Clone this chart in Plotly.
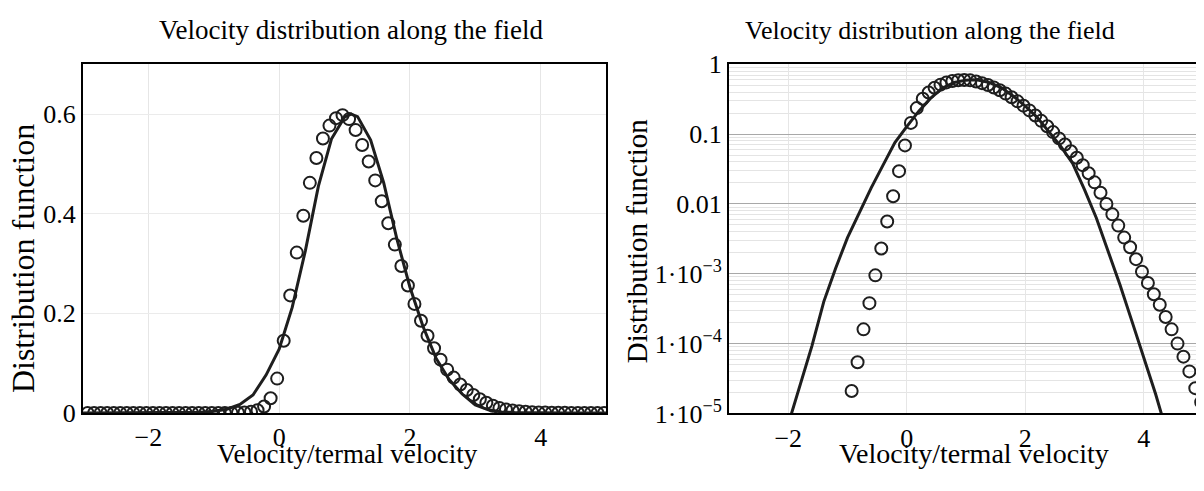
import plotly.graph_objects as go
from plotly.subplots import make_subplots

# measured points (circles)
circ_x = [-2.93, -2.83, -2.73, -2.63, -2.53, -2.43, -2.33, -2.23, -2.13, -2.03,
          -1.93, -1.83, -1.73, -1.63, -1.53, -1.43, -1.33, -1.23, -1.13, -1.03,
          -0.93, -0.83, -0.73, -0.63, -0.53, -0.43, -0.33, -0.23, -0.13, -0.03,
          0.07, 0.17, 0.27, 0.37, 0.47, 0.57, 0.67, 0.77, 0.87, 0.97,
          1.07, 1.17, 1.27, 1.37, 1.47, 1.57, 1.67, 1.77, 1.87, 1.97,
          2.07, 2.17, 2.27, 2.37, 2.47, 2.57, 2.67, 2.77, 2.87, 2.97,
          3.07, 3.17, 3.27, 3.37, 3.47, 3.57, 3.67, 3.77, 3.87, 3.97,
          4.07, 4.17, 4.27, 4.37, 4.47, 4.57, 4.67, 4.77, 4.87, 4.97]
circ_y = [0, 0, 0, 0, 0, 0, 0, 0, 0, 0,
          0, 0, 0, 0, 0, 0, 2.5e-7, 8e-7, 2.5e-6, 7e-6,
          2.1e-5, 5.4e-5, 1.6e-4, 3.8e-4, 9.5e-4, 2.3e-3, 5.6e-3, 0.0129, 0.0295, 0.069,
          0.145, 0.236, 0.322, 0.396, 0.462, 0.512, 0.551, 0.577, 0.592, 0.598,
          0.590, 0.568, 0.538, 0.505, 0.467, 0.425, 0.381, 0.338, 0.295, 0.256,
          0.219, 0.185, 0.155, 0.130, 0.107, 0.087, 0.071, 0.057, 0.046, 0.036,
          0.0275, 0.0204, 0.0145, 0.0100, 0.0071, 0.0049, 0.0033, 0.0024, 0.00162, 0.00107,
          7.4e-4, 5.1e-4, 3.6e-4, 2.4e-4, 1.6e-4, 1.0e-4, 6.5e-5, 4.0e-5, 2.3e-5, 1.45e-5]

# model curve (line)
line_x = [-3.0, -2.8, -2.6, -2.4, -2.2, -2.0, -1.8, -1.6, -1.4, -1.2, -1.0, -0.8, -0.6,
          -0.4, -0.2, 0.0, 0.2, 0.4, 0.6, 0.8, 1.0, 1.1, 1.2, 1.4, 1.6, 1.8, 2.0,
          2.2, 2.4, 2.6, 2.8, 3.0, 3.2, 3.4, 3.6, 3.8, 4.0, 4.2, 4.4, 4.6, 4.8, 5.0]
line_y = [2e-9, 1.3e-8, 6e-8, 3e-7, 1.6e-6, 7e-6, 2.5e-5, 9.3e-5, 4.0e-4, 1.2e-3, 3.3e-3, 7.6e-3, 0.017,
          0.036, 0.076, 0.128, 0.212, 0.325, 0.455, 0.550, 0.594, 0.600, 0.595, 0.548, 0.462, 0.350, 0.253,
          0.174, 0.110, 0.067, 0.038, 0.016, 0.0063, 0.0021, 6.9e-4, 2.1e-4, 6.3e-5, 1.9e-5, 5e-6, 1.3e-6, 3e-7, 6e-8]

log_tickvals = [1, 0.1, 0.01, 1e-3, 1e-4, 1e-5]
log_ticktext = ["1", "0.1", "0.01", "1·10<sup>−3</sup>", "1·10<sup>−4</sup>", "1·10<sup>−5</sup>"]

title_text = "Velocity distribution along the field"
xlabel = "Velocity/termal velocity"
ylabel = "Distribution function"

W, H = 1204, 491
OFF = 8  # page body margin pushes the figure 8px right/down
FONT = "Liberation Serif"
INK = "#1e1e1e"

fig = make_subplots(rows=1, cols=2)

for col in (1, 2):
    fig.add_trace(go.Scatter(
        x=line_x, y=line_y, mode="lines",
        line=dict(color=INK, width=3),
        hoverinfo="skip"), row=1, col=col)
    fig.add_trace(go.Scatter(
        x=circ_x, y=circ_y, mode="markers",
        marker=dict(symbol="circle-open", size=12, color=INK, line=dict(width=2, color=INK)),
        hoverinfo="skip"), row=1, col=col)

def px(x):
    return (x - OFF) / W

def py(y):
    return 1 - (y - OFF) / H

common_x = dict(range=[-3, 5], tickvals=[-2, 0, 2, 4], ticktext=["−2", "0", "2", "4"],
                showline=True, mirror=True, linecolor="black", linewidth=2,
                showgrid=True, gridcolor="#e6e6e6", gridwidth=1, zeroline=False,
                ticks="", tickfont=dict(family=FONT, size=26, color="black"))

fig.update_xaxes(domain=[px(83), px(606)], **common_x, row=1, col=1)
fig.update_xaxes(domain=[px(729), px(1203)], **common_x, row=1, col=2)

fig.update_yaxes(domain=[py(423.5), py(53)], range=[0, 0.7],
                 tickvals=[0, 0.2, 0.4, 0.6], ticktext=["0", "0.2", "0.4", "0.6"],
                 showline=True, mirror=True, linecolor="black", linewidth=2,
                 showgrid=True, gridcolor="#ebebeb", zeroline=False, ticks="",
                 tickfont=dict(family=FONT, size=26, color="black"), row=1, col=1)

fig.update_yaxes(domain=[py(424), py(53)], type="log", range=[-5, 0],
                 tickvals=log_tickvals, ticktext=log_ticktext,
                 showline=True, mirror=True, linecolor="black", linewidth=2,
                 showgrid=True, gridcolor="#a8a8a8", zeroline=False, ticks="",
                 minor=dict(dtick="D1", showgrid=True, gridcolor="#e4e4e4", ticks=""),
                 tickfont=dict(family=FONT, size=26, color="black"), row=1, col=2)

annotations = [
    dict(text=title_text, x=px(351), y=py(17), font=dict(size=27)),
    dict(text=title_text, x=px(930), y=py(17), font=dict(size=26)),
    dict(text=xlabel, x=px(347), y=py(467), font=dict(size=27)),
    dict(text=xlabel, x=px(974), y=py(467), font=dict(size=28)),
    dict(text=ylabel, x=px(23), y=py(260), font=dict(size=32), textangle=-90),
    dict(text=ylabel, x=px(637), y=py(241), font=dict(size=29), textangle=-90),
]
for a in annotations:
    a["font"].update(family=FONT, color="black")
    fig.add_annotation(xref="paper", yref="paper", showarrow=False,
                       xanchor="center", yanchor="middle", **a)

fig.update_layout(width=W, height=H, margin=dict(l=0, r=0, t=0, b=0),
                  showlegend=False, paper_bgcolor="white", plot_bgcolor="white")

fig.write_html("out.html")
